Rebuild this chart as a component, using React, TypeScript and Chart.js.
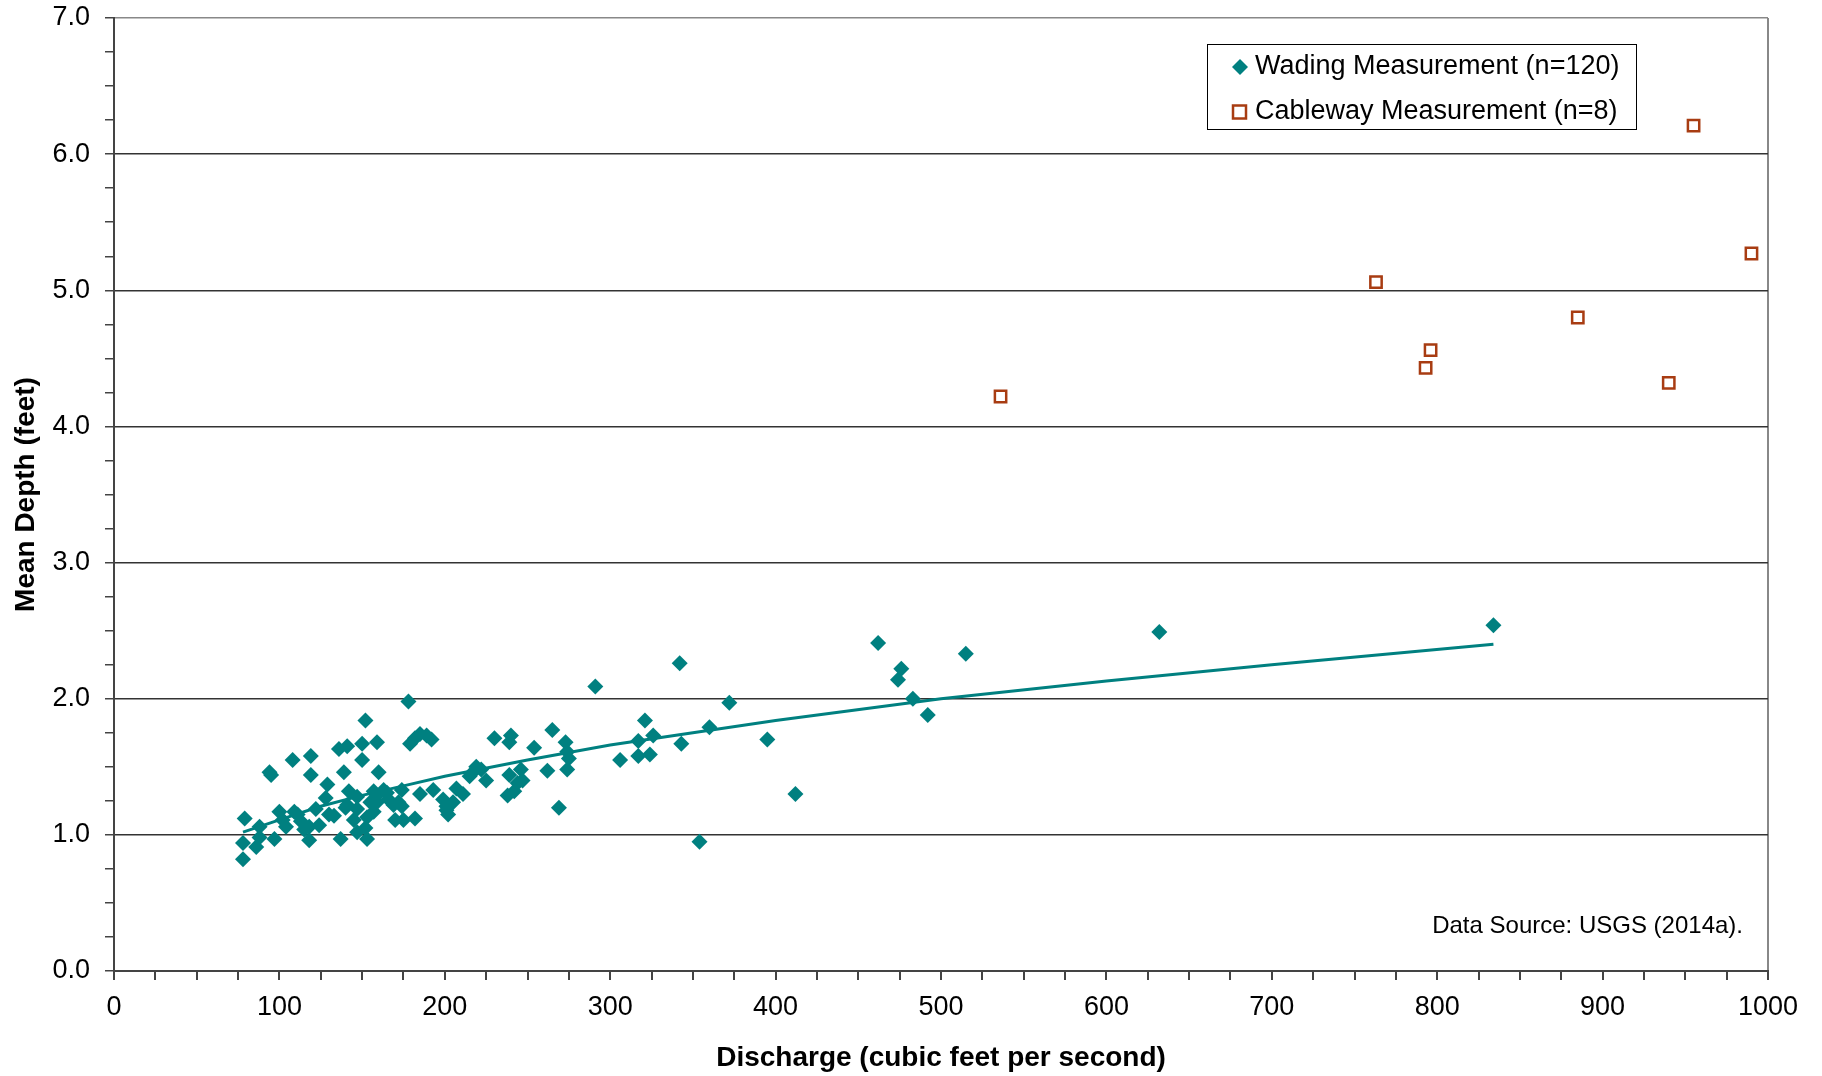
import React, { useEffect, useRef } from 'react';
import { Chart, registerables } from 'chart.js';

Chart.register(...registerables);

const FONT = "'Liberation Sans', Arial, Helvetica, sans-serif";

// Wading measurements: discharge (cfs) and mean depth (ft)
const wadingQ = [
  78, 78, 79, 86, 88, 88, 94, 95, 97,
  100, 102, 104, 108, 109, 113, 115, 118, 118, 119, 119, 122, 124, 128, 129, 130,
  136, 137, 139, 140, 141, 142, 141, 145, 147, 147, 150, 150, 152, 152, 153, 153, 155, 157, 157, 159, 159, 160, 159,
  163, 166, 169, 170, 172, 174, 174, 175, 178, 179, 182, 185, 189, 192, 182, 185, 193, 199,
  201, 202, 201, 205, 207, 211, 215, 217, 219, 222, 225, 230, 238, 239, 239, 240, 242, 244, 246, 254,
  262, 265, 269, 273, 274, 275, 274, 291,
  306, 317, 317, 321, 324, 326, 342, 343, 354, 360, 372, 395, 412,
  462, 474, 476, 483, 492, 515, 632, 834,
  165, 147, 133, 111, 247,
];
const wadingDepth = [
  0.82, 0.94, 1.12, 0.91, 0.98, 1.06, 1.46, 1.44, 0.97,
  1.17, 1.11, 1.06, 1.55, 1.17, 1.10, 1.04, 0.96, 1.06, 1.58, 1.44, 1.19, 1.07, 1.27, 1.37, 1.15,
  1.63, 0.97, 1.46, 1.20, 1.65, 1.32, 1.22, 1.11, 1.02, 1.19, 1.55, 1.67, 1.84, 1.05, 1.13, 0.97, 1.24, 1.17, 1.32, 1.68, 1.24, 1.46, 1.29,
  1.33, 1.26, 1.22, 1.11, 1.24, 1.33, 1.21, 1.11, 1.98, 1.67, 1.71, 1.74, 1.73, 1.70, 1.12, 1.30, 1.33, 1.26,
  1.18, 1.15, 1.21, 1.24, 1.34, 1.30, 1.43, 1.46, 1.50, 1.48, 1.40, 1.71, 1.29, 1.44, 1.68, 1.73, 1.32, 1.38, 1.48, 1.64,
  1.47, 1.77, 1.20, 1.68, 1.61, 1.56, 1.48, 2.09,
  1.55, 1.58, 1.69, 1.84, 1.59, 1.73, 2.26, 1.67, 0.95, 1.79, 1.97, 1.70, 1.30,
  2.41, 2.14, 2.22, 2.00, 1.88, 2.33, 2.49, 2.54,
  1.31, 1.28, 1.14, 1.15, 1.40,
];

// Cableway measurements
const cablewayQ = [536, 763, 793, 796, 885, 940, 955, 990];
const cablewayDepth = [4.22, 5.06, 4.43, 4.56, 4.80, 4.32, 6.21, 5.27];

// Trend line
const trendQ = [78, 100, 125, 150, 175, 200, 250, 300, 400, 500, 600, 700, 834];
const trendDepth = [1.02, 1.11, 1.21, 1.29, 1.36, 1.43, 1.55, 1.66, 1.84, 2.0, 2.13, 2.25, 2.40];

const legendLabels = ['Wading Measurement (n=120)', 'Cableway Measurement (n=8)'];
const sourceNote = 'Data Source: USGS (2014a).';
const xTitle = 'Discharge (cubic feet per second)';
const yTitle = 'Mean Depth (feet)';

const TEAL = '#008080';
const RUST = '#A83C12';

export default function App() {
  const canvasRef = useRef<HTMLCanvasElement | null>(null);

  useEffect(() => {
    const canvas = canvasRef.current;
    if (!canvas) return;

    const overlay = {
      id: 'overlay',
      afterDraw(chart: any) {
        const ctx = chart.ctx as CanvasRenderingContext2D;
        ctx.save();
        // legend box
        ctx.fillStyle = '#fff';
        ctx.fillRect(1207, 44, 429, 85);
        ctx.strokeStyle = '#000';
        ctx.lineWidth = 1;
        ctx.strokeRect(1207.5, 44.5, 429, 85);
        // diamond
        ctx.fillStyle = TEAL;
        ctx.beginPath();
        ctx.moveTo(1240, 59);
        ctx.lineTo(1248, 67);
        ctx.lineTo(1240, 75);
        ctx.lineTo(1232, 67);
        ctx.closePath();
        ctx.fill();
        // square
        ctx.strokeStyle = RUST;
        ctx.lineWidth = 2.5;
        ctx.strokeRect(1233, 105.5, 13, 13);
        ctx.fillStyle = '#000';
        ctx.font = `27px ${FONT}`;
        ctx.textBaseline = 'middle';
        ctx.textAlign = 'left';
        ctx.fillText(legendLabels[0], 1255, 67);
        ctx.fillText(legendLabels[1], 1255, 112);
        // source note
        ctx.font = `24px ${FONT}`;
        ctx.textAlign = 'right';
        ctx.fillText(sourceNote, 1743, 926);
        ctx.restore();
      },
    };

    const isInt = (v: number) => Math.abs(v - Math.round(v)) < 1e-6;

    const chart = new Chart(canvas, {
      type: 'scatter',
      data: {
        datasets: [
          {
            label: 'Trend',
            data: trendQ.map((x, i) => ({ x, y: trendDepth[i] })),
            showLine: true,
            borderColor: TEAL,
            borderWidth: 3,
            pointRadius: 0,
            fill: false,
            order: 0,
          },
          {
            label: legendLabels[0],
            data: wadingQ.map((x, i) => ({ x, y: wadingDepth[i] })),
            pointStyle: 'rectRot',
            pointRadius: 8,
            backgroundColor: TEAL,
            borderColor: TEAL,
            borderWidth: 0,
            order: 1,
          },
          {
            label: legendLabels[1],
            data: cablewayQ.map((x, i) => ({ x, y: cablewayDepth[i] })),
            pointStyle: 'rect',
            pointRadius: 8,
            backgroundColor: '#fff',
            borderColor: RUST,
            borderWidth: 2.5,
            order: 2,
          },
        ],
      } as any,
      options: {
        animation: false,
        responsive: false,
        maintainAspectRatio: false,
        layout: { padding: { left: 0, right: 54, top: 18, bottom: 0 } },
        plugins: { legend: { display: false }, tooltip: { enabled: false } },
        scales: {
          x: {
            type: 'linear',
            min: 0,
            max: 1000,
            position: 'bottom',
            afterFit: (s: any) => {
              s.height = 105;
            },
            ticks: {
              stepSize: 25,
              autoSkip: false,
              maxRotation: 0,
              color: '#000',
              padding: 11,
              font: { family: FONT, size: 27 },
              callback: (v: any) => (Math.abs(v % 100) < 1e-6 ? String(v) : ''),
            },
            grid: {
              drawOnChartArea: true,
              color: (c: any) => (c.tick && c.tick.value === 1000 ? '#888' : 'rgba(0,0,0,0)'),
              tickColor: '#444',
              tickLength: 9,
              lineWidth: 2,
            },
            border: { color: '#444', width: 2 },
            title: {
              display: true,
              text: xTitle,
              color: '#000',
              font: { family: FONT, size: 28, weight: 'bold' },
              padding: { top: 0, bottom: 1 },
            },
          },
          y: {
            type: 'linear',
            min: 0,
            max: 7,
            afterFit: (s: any) => {
              s.width = 114;
              s.paddingTop = 0;
              s.paddingBottom = 0;
            },
            ticks: {
              stepSize: 0.25,
              autoSkip: false,
              color: '#000',
              padding: 15,
              font: { family: FONT, size: 27 },
              callback: (v: any) => (isInt(v) ? Number(v).toFixed(1) : ''),
            },
            grid: {
              drawOnChartArea: true,
              color: (c: any) => {
                const v = c.tick ? c.tick.value : -1;
                if (!isInt(v) || v === 0) return 'rgba(0,0,0,0)';
                return v === 7 ? '#888' : '#333';
              },
              tickColor: '#444',
              tickLength: 9,
              lineWidth: 1.5,
            },
            border: { color: '#444', width: 2 },
            title: {
              display: true,
              text: yTitle,
              color: '#000',
              font: { family: FONT, size: 28, weight: 'bold' },
              padding: { top: 9, bottom: 0 },
            },
          },
        },
      } as any,
      plugins: [overlay],
    });

    return () => chart.destroy();
  }, []);

  return (
    <div
      style={{
        position: 'fixed',
        left: 0,
        top: 0,
        width: 1822,
        height: 1076,
        background: '#fff',
      }}
    >
      <canvas ref={canvasRef} width={1822} height={1076} style={{ width: 1822, height: 1076, display: 'block' }} />
    </div>
  );
}
